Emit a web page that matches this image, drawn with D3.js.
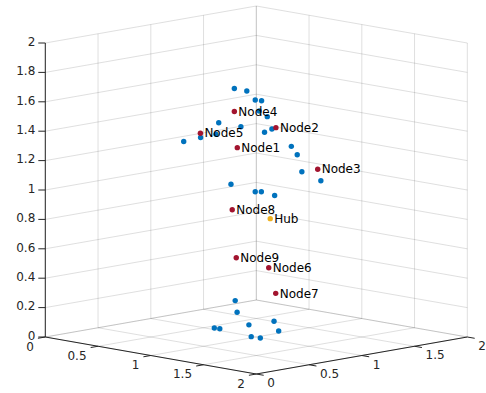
<!DOCTYPE html>
<html>
<head>
<meta charset="utf-8">
<script src="https://cdn.jsdelivr.net/npm/d3@7"></script>
<style>
  html, body { margin: 0; padding: 0; background: #fff; }
  svg { display: block; font-family: "DejaVu Sans", sans-serif; }
</style>
</head>
<body>
<div id="chart"></div>
<script>
// axis ticks
const xyTicks = [0, 0.5, 1, 1.5, 2];
const xyTickLabels = ['0', '0.5', '1', '1.5', '2'];
const zTicks = [0, 0.2, 0.4, 0.6, 0.8, 1, 1.2, 1.4, 1.6, 1.8, 2];
const zTickLabels = ['0', '0.2', '0.4', '0.6', '0.8', '1', '1.2', '1.4', '1.6', '1.8', '2'];

// blue sensor points (x, y, z)
const sensorX = [0.896, 0.955, 0.995, 1.025, 1.014, 1.052, 0.822, 0.927, 1.039, 1.074, 0.736, 0.809, 0.656, 1.166, 1.194,
  1.216, 1.306, 0.880, 0.995, 1.024, 1.087, 1.200, 1.209, 1.101, 1.127, 1.265, 1.384, 1.276, 1.319, 1.406];
const sensorY = [0.896, 0.955, 0.995, 1.025, 1.014, 1.052, 0.822, 0.927, 1.039, 1.074, 0.736, 0.809, 0.656, 1.166, 1.194,
  1.216, 1.306, 0.880, 0.995, 1.024, 1.087, 0.600, 0.609, 0.501, 0.527, 0.665, 0.784, 0.676, 0.719, 0.806];
const sensorZ = [1.690, 1.673, 1.612, 1.607, 1.537, 1.499, 1.457, 1.430, 1.393, 1.415, 1.357, 1.379, 1.330, 1.297, 1.240,
  1.124, 1.063, 1.039, 0.988, 0.988, 0.963, 0.323, 0.244, 0.137, 0.132, 0.158, 0.183, 0.078, 0.069, 0.116];

// red nodes
const nodeNames = ['Node1', 'Node2', 'Node3', 'Node4', 'Node5', 'Node6', 'Node7', 'Node8', 'Node9'];
const nodeX = [0.910, 1.093, 1.291, 0.896, 0.735, 1.059, 1.092, 0.886, 0.905];
const nodeY = [0.910, 1.093, 1.291, 0.896, 0.735, 1.059, 1.092, 0.886, 0.905];
const nodeZ = [1.288, 1.424, 1.141, 1.534, 1.386, 0.471, 0.297, 0.866, 0.539];

// hub
const hubName = 'Hub';
const hubX = [1.066];
const hubY = [1.066];
const hubZ = [0.805];

const width = 486, height = 393;
const originX = 45.3;

// view projection (az -37.5, el 30, stretched to fill)
const hx = d3.scaleLinear().domain([0, 2]).range([0, 211]);
const hy = d3.scaleLinear().domain([0, 2]).range([0, 211]);
const vx = d3.scaleLinear().domain([0, 2]).range([0, 37]);
const vy = d3.scaleLinear().domain([0, 2]).range([0, -37]);
const zs = d3.scaleLinear().domain([0, 2]).range([337, 43]);
function proj(x, y, z) {
  return [originX + hx(x) + hy(y), zs(z) + vx(x) + vy(y)];
}

const svg = d3.select('#chart').append('svg')
    .attr('width', width)
    .attr('height', height);

// grid lines on the three back planes
const gridSegs = [];
zTicks.forEach((z) => {
  gridSegs.push([proj(0, 0, z), proj(0, 2, z)]); // x=0 wall
  gridSegs.push([proj(0, 2, z), proj(2, 2, z)]); // y=2 wall
});
xyTicks.forEach((t) => {
  gridSegs.push([proj(0, t, 0), proj(0, t, 2)]); // x=0 wall verticals
  gridSegs.push([proj(t, 2, 0), proj(t, 2, 2)]); // y=2 wall verticals
  gridSegs.push([proj(t, 0, 0), proj(t, 2, 0)]); // floor
  gridSegs.push([proj(0, t, 0), proj(2, t, 0)]); // floor
});
svg.append('g').selectAll('line')
    .data(gridSegs)
    .enter().append('line')
    .attr('x1', (d) => d[0][0]).attr('y1', (d) => d[0][1])
    .attr('x2', (d) => d[1][0]).attr('y2', (d) => d[1][1])
    .attr('stroke', '#262626')
    .attr('stroke-opacity', 0.15)
    .attr('stroke-width', 1);

// axes lines
const axisColor = '#262626';
const axes = svg.append('g').attr('stroke', axisColor).attr('stroke-width', 1);
const axisSegs = [
  [proj(0, 0, 0), proj(2, 0, 0)],
  [proj(2, 0, 0), proj(2, 2, 0)],
  [proj(0, 0, 0), proj(0, 0, 2)]
];
axes.selectAll('line.ax')
    .data(axisSegs)
    .enter().append('line')
    .attr('class', 'ax')
    .attr('x1', (d) => d[0][0]).attr('y1', (d) => d[0][1])
    .attr('x2', (d) => d[1][0]).attr('y2', (d) => d[1][1]);

// ticks
const tickSegs = [];
xyTicks.forEach((t) => {
  tickSegs.push([proj(t, 0, 0), proj(t, -0.07, 0)]);
  tickSegs.push([proj(2, t, 0), proj(2.07, t, 0)]);
});
zTicks.forEach((z) => {
  const p = proj(0, 0, z);
  tickSegs.push([p, [p[0] - 7, p[1]]]);
});
axes.selectAll('line.tk')
    .data(tickSegs)
    .enter().append('line')
    .attr('class', 'tk')
    .attr('x1', (d) => d[0][0]).attr('y1', (d) => d[0][1])
    .attr('x2', (d) => d[1][0]).attr('y2', (d) => d[1][1]);

// tick labels
const lbl = svg.append('g').attr('fill', axisColor).style('font-size', '12px');
lbl.selectAll('text.z')
    .data(zTicks)
    .enter().append('text')
    .attr('x', (d) => proj(0, 0, d)[0] - 10)
    .attr('y', (d) => proj(0, 0, d)[1] - 1.5)
    .attr('dy', '0.35em')
    .attr('text-anchor', 'end')
    .text((d, i) => zTickLabels[i]);
lbl.selectAll('text.x')
    .data(xyTicks)
    .enter().append('text')
    .attr('x', (d) => proj(d, 0, 0)[0] - 11.5)
    .attr('y', (d) => proj(d, 0, 0)[1] + 9.5)
    .attr('dy', '0.35em')
    .attr('text-anchor', 'end')
    .text((d, i) => xyTickLabels[i]);
lbl.selectAll('text.y')
    .data(xyTicks)
    .enter().append('text')
    .attr('x', (d) => proj(2, d, 0)[0] + 11)
    .attr('y', (d) => proj(2, d, 0)[1] + 9)
    .attr('dy', '0.35em')
    .attr('text-anchor', 'start')
    .text((d, i) => xyTickLabels[i]);

// markers
const r = 2.7;
svg.append('g').selectAll('circle')
    .data(sensorX.map((x, i) => proj(x, sensorY[i], sensorZ[i])))
    .enter().append('circle')
    .attr('cx', (d) => d[0]).attr('cy', (d) => d[1])
    .attr('r', r)
    .attr('fill', '#0072BD');

const nodePts = nodeX.map((x, i) => proj(x, nodeY[i], nodeZ[i]));
svg.append('g').selectAll('circle')
    .data(nodePts)
    .enter().append('circle')
    .attr('cx', (d) => d[0]).attr('cy', (d) => d[1])
    .attr('r', r)
    .attr('fill', '#A2142F');

const hubPts = hubX.map((x, i) => proj(x, hubY[i], hubZ[i]));
svg.append('g').selectAll('circle')
    .data(hubPts)
    .enter().append('circle')
    .attr('cx', (d) => d[0]).attr('cy', (d) => d[1])
    .attr('r', r)
    .attr('fill', '#EDB120');

// labels
const txt = svg.append('g').attr('fill', '#000').style('font-size', '12px');
txt.selectAll('text.n')
    .data(nodePts)
    .enter().append('text')
    .attr('x', (d) => d[0] + 4)
    .attr('y', (d) => d[1])
    .attr('dy', '0.35em')
    .text((d, i) => nodeNames[i]);
txt.selectAll('text.h')
    .data(hubPts)
    .enter().append('text')
    .attr('x', (d) => d[0] + 4)
    .attr('y', (d) => d[1])
    .attr('dy', '0.35em')
    .text(hubName);
</script>
</body>
</html>
